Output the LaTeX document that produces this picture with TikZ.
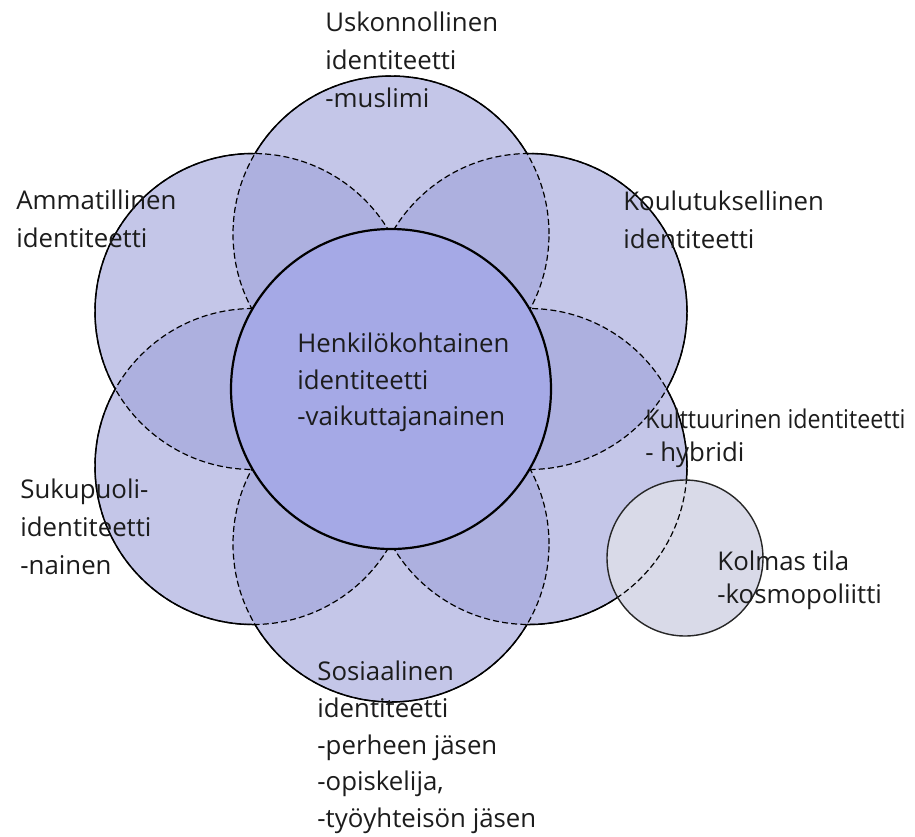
\documentclass[tikz,border=0pt]{standalone}
\usepackage{graphicx}
\usepackage{fontspec}
\setmainfont{Open Sans}
\definecolor{petalfill}{RGB}{160,163,218}
\definecolor{corefill}{RGB}{165,169,230}
\definecolor{smallfill}{RGB}{217,218,232}
\definecolor{txt}{RGB}{28,28,28}
\tikzset{
  petalarea/.style={fill=petalfill,fill opacity=0.61},
  petaldash/.style={draw=black,line width=0.6pt,dash pattern=on 3pt off 1.6pt},
  petalsolid/.style={draw=black,line width=0.75pt},
  corecircle/.style={fill=corefill,draw=black,line width=1.1pt},
  smallarea/.style={fill=smallfill},
  smallline/.style={draw=black!85,line width=0.7pt},
  lbl/.style={anchor=north west,inner sep=0pt,align=left,text=txt},
  lblA/.style={lbl,font=\fontsize{12.9}{19}\selectfont},
  lblB/.style={lbl,font=\fontsize{12.9}{18.4}\selectfont},
  lblH/.style={lbl,font=\fontsize{12.9}{18.3}\selectfont},
  lblC/.style={lbl,font=\fontsize{12.9}{16.3}\selectfont},
}
\newcommand{\outside}[1]{\clip (-100,100) rectangle (1100,-1000) (#1) circle[radius=79pt];}
\begin{document}
\begin{tikzpicture}[x=0.5pt,y=0.5pt]
\fill[white] (0,0) rectangle (915,-836);
\path[use as bounding box] (0,0) rectangle (915,-836);
% centres
\coordinate (C) at (391,-389);
\coordinate (T) at (391,-234);
\coordinate (B) at (391,-544);
\coordinate (UL) at (253,-311.5);
\coordinate (UR) at (529,-311.5);
\coordinate (LL) at (253,-466.5);
\coordinate (LR) at (529,-466.5);
\coordinate (S) at (685,-558);
% petal fills
\foreach \p in {T,UL,UR,LL,LR,B}{
  \path[petalarea] (\p) circle[radius=79pt];
}
% small circle fill
\path[smallarea] (S) circle[radius=39pt];
% dashed petal outlines
\foreach \p in {T,UL,UR,LL,LR,B}{
  \path[petaldash] (\p) circle[radius=79pt];
}
% solid outer envelope
\begin{scope}[even odd rule]
  \outside{UL}\outside{UR}\outside{LL}\outside{LR}\outside{B}
  \path[petalsolid] (T) circle[radius=79pt];
\end{scope}
\begin{scope}[even odd rule]
  \outside{T}\outside{UR}\outside{LL}\outside{LR}\outside{B}
  \path[petalsolid] (UL) circle[radius=79pt];
\end{scope}
\begin{scope}[even odd rule]
  \outside{T}\outside{UL}\outside{LL}\outside{LR}\outside{B}
  \path[petalsolid] (UR) circle[radius=79pt];
\end{scope}
\begin{scope}[even odd rule]
  \outside{T}\outside{UL}\outside{UR}\outside{LR}\outside{B}
  \path[petalsolid] (LL) circle[radius=79pt];
\end{scope}
\begin{scope}[even odd rule]
  \outside{T}\outside{UL}\outside{UR}\outside{LL}\outside{B}
  \clip (-100,100) rectangle (1100,-1000) (S) circle[radius=39pt];
  \path[petalsolid] (LR) circle[radius=79pt];
\end{scope}
\begin{scope}[even odd rule]
  \outside{T}\outside{UL}\outside{UR}\outside{LL}\outside{LR}
  \path[petalsolid] (B) circle[radius=79pt];
\end{scope}
% core circle
\path[corecircle] (C) circle[radius=80pt];
% small circle outline
\path[smallline] (S) circle[radius=39pt];
% labels
\node[lblA] (usk) at (325,-11.4) {Uskonnollinen\\identiteetti\\-muslimi};
\node[lblA] (amm) at (16,-189.4) {Ammatillinen\\identiteetti};
\node[lblA] (kou) at (623,-190.4) {Koulutuksellinen\\identiteetti};
\node[lblH] (hen) at (297,-332.4) {Henkilökohtainen\\identiteetti\\-vaikuttajanainen};
\node[lblC] (kul) at (645,-408.4) {\scalebox{0.9}[1]{Kulttuurinen identiteetti}\\- hybridi};
\node[lblA] (suk) at (20,-478.4) {Sukupuoli-\\identiteetti\\-nainen};
\node[lblC] (kol) at (717,-550.4) {Kolmas tila\\-kosmopoliitti};
\node[lblB] (sos) at (317,-660.4) {Sosiaalinen\\identiteetti\\-perheen jäsen\\-opiskelija,\\-työyhteisön jäsen};
\end{tikzpicture}
\end{document}
